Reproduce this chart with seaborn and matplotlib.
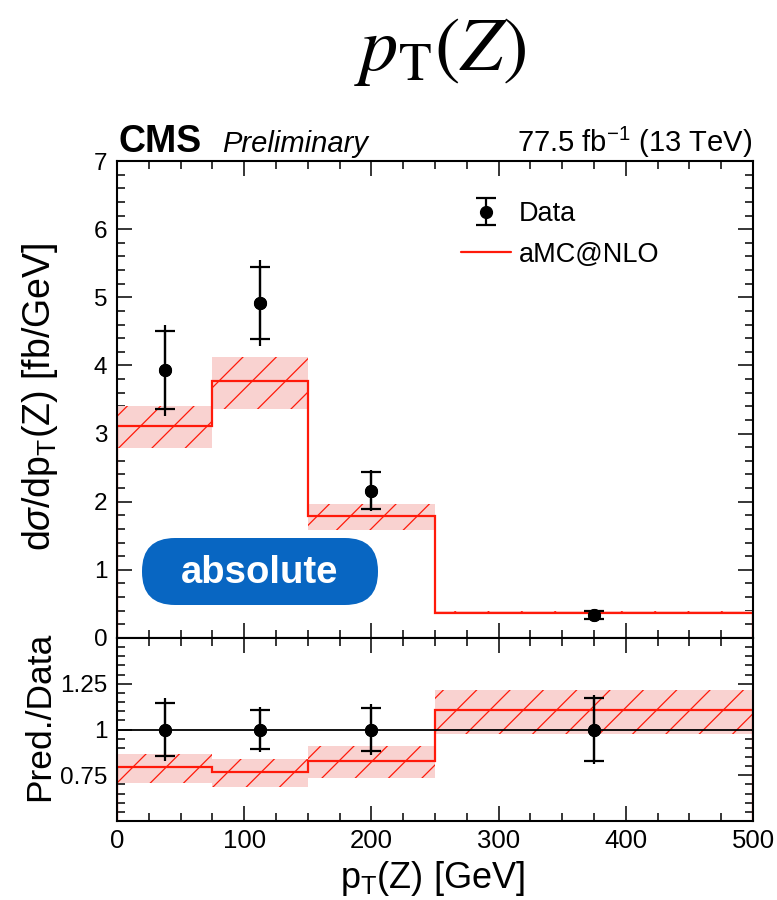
import numpy as np
import pandas as pd
import seaborn as sns
import matplotlib
matplotlib.use("Agg")
import matplotlib.pyplot as plt
from matplotlib.patches import FancyBboxPatch
from matplotlib.transforms import IdentityTransform
from matplotlib.ticker import MultipleLocator, FixedLocator, FixedFormatter
from matplotlib.lines import Line2D

# ---------------- data ----------------
bin_edges = [0, 75, 150, 250, 500]
data_x = [37.5, 112.5, 200, 375]
data_y = [3.93, 4.92, 2.16, 0.34]
data_stat = [0.57, 0.53, 0.27, 0.055]
data_tot = [0.67, 0.63, 0.30, 0.06]
mc_y = [3.11, 3.77, 1.79, 0.37]
mc_lo = [2.79, 3.36, 1.59, 0.35]
mc_hi = [3.40, 4.12, 1.97, 0.39]
ratio_data = [1.0, 1.0, 1.0, 1.0]
ratio_stat = [0.146, 0.108, 0.118, 0.17]
ratio_tot = [0.17, 0.125, 0.14, 0.19]
ratio_mc = [0.797, 0.766, 0.83, 1.109]
ratio_lo = [0.71, 0.685, 0.733, 0.978]
ratio_hi = [0.868, 0.838, 0.91, 1.218]
main_yticks = [0, 1, 2, 3, 4, 5, 6, 7]
ratio_yticks = [0.5, 0.75, 1.0, 1.25, 1.5]
ratio_yticklabels = ["", "0.75", "1", "1.25", ""]
xticks = [0, 100, 200, 300, 400, 500]

sns.set_theme(style="ticks")
plt.rcParams["font.family"] = ["Liberation Sans", "DejaVu Sans"]
plt.rcParams["mathtext.fontset"] = "custom"
plt.rcParams["mathtext.rm"] = "Liberation Sans"
plt.rcParams["mathtext.it"] = "Liberation Sans:italic"
plt.rcParams["mathtext.bf"] = "Liberation Sans:bold"
plt.rcParams["hatch.linewidth"] = 0.9
for k in ["text.color", "axes.labelcolor", "xtick.color", "ytick.color",
          "axes.edgecolor", "xtick.labelcolor", "ytick.labelcolor"]:
    plt.rcParams[k] = "black"

W, H = 777, 900
fig = plt.figure(figsize=(W / 100, H / 100), dpi=100)

L, R = 117, 753
top_main, split, bot_ratio = 161, 638, 821
ax = fig.add_axes([L / W, 1 - split / H, (R - L) / W, (split - top_main) / H])
axr = fig.add_axes([L / W, 1 - bot_ratio / H, (R - L) / W, (bot_ratio - split) / H], sharex=ax)

red = "#ff1a0a"
pink = "#f9d2d0"

df = pd.DataFrame({"x": data_x, "y": data_y, "r": ratio_data})

# ---------- main panel ----------
ax.stairs(mc_hi, bin_edges, baseline=mc_lo, fill=True, facecolor=pink,
          edgecolor=red, linewidth=0, hatch="/", zorder=1)
ax.stairs(mc_y, bin_edges, color=red, linewidth=1.6, zorder=2)
ax.errorbar(data_x, data_y, yerr=data_tot, fmt="none", ecolor="black",
            elinewidth=1.6, capsize=0, zorder=3)
eb = ax.errorbar(data_x, data_y, yerr=data_stat, fmt="o", color="black",
                 markersize=8.5, elinewidth=1.6, capsize=7, capthick=1.6, zorder=4)
sns.scatterplot(data=df, x="x", y="y", ax=ax, color="black", s=75,
                edgecolor="black", zorder=5, legend=False)

ax.set_xlim(0, 500)
ax.set_ylim(0, 7)
ax.set_xlabel("")
ax.set_ylabel("")
ax.yaxis.set_major_locator(FixedLocator(main_yticks))
ax.yaxis.set_minor_locator(MultipleLocator(0.2))
ax.xaxis.set_major_locator(FixedLocator(xticks))
ax.xaxis.set_minor_locator(MultipleLocator(25))
ax.tick_params(labelbottom=False)

mc_handle = Line2D([], [], color=red, linewidth=1.6)
leg = ax.legend([eb, mc_handle], ["Data", "aMC@NLO"], loc="upper left",
                bbox_to_anchor=((461 - L) / (R - L), (split - 201) / (split - top_main)),
                frameon=False, fontsize=19.5, handlelength=1.85, handletextpad=0.3,
                labelspacing=0.55, borderaxespad=0, borderpad=0)

# ---------- ratio panel ----------
axr.stairs(ratio_hi, bin_edges, baseline=ratio_lo, fill=True, facecolor=pink,
           edgecolor=red, linewidth=0, hatch="/", zorder=1)
axr.stairs(ratio_mc, bin_edges, color=red, linewidth=1.6, zorder=2)
axr.axhline(1.0, color="black", linewidth=1.3, zorder=2.5)
axr.errorbar(data_x, ratio_data, yerr=ratio_tot, fmt="none", ecolor="black",
             elinewidth=1.6, capsize=0, zorder=3)
axr.errorbar(data_x, ratio_data, yerr=ratio_stat, fmt="o", color="black",
             markersize=8.5, elinewidth=1.6, capsize=7, capthick=1.6, zorder=4)
sns.scatterplot(data=df, x="x", y="r", ax=axr, color="black", s=75,
                edgecolor="black", zorder=5, legend=False)
axr.set_ylim(0.5, 1.5)
axr.set_xlim(0, 500)
axr.set_xlabel("")
axr.set_ylabel("")
axr.yaxis.set_major_locator(FixedLocator(ratio_yticks))
axr.yaxis.set_major_formatter(FixedFormatter(ratio_yticklabels))
axr.yaxis.set_minor_locator(MultipleLocator(0.05))
axr.xaxis.set_major_locator(FixedLocator(xticks))
axr.xaxis.set_minor_locator(MultipleLocator(25))

for a in (ax, axr):
    for s in a.spines.values():
        s.set_linewidth(1.5)
        s.set_color("black")
    a.tick_params(which="both", direction="in", top=True, right=True,
                  width=1.1, colors="black")
    a.tick_params(which="major", length=10.5, pad=7)
    a.tick_params(which="minor", length=5.5)
    a.tick_params(axis="y", labelsize=17.5)
    a.tick_params(axis="x", labelsize=18.5, pad=6)
    a.set_facecolor("white")

# ---------- text ----------
fig.text(440 / W, 1 - 52 / H, r"$p_{\mathrm{T}}(Z)$", fontsize=55,
         ha="center", va="center", math_fontfamily="stix")
fig.text(118 / W, 1 - 152 / H, "CMS", fontsize=27, fontweight="bold",
         ha="left", va="baseline")
fig.text(222 / W, 1 - 152 / H, "Preliminary", fontsize=21, style="italic",
         ha="left", va="baseline")
fig.text(752 / W, 1 - 152 / H, r"77.5 fb$^{-1}$ (13 TeV)", fontsize=21,
         ha="right", va="baseline")
fig.text(40 / W, 1 - 397 / H, r"d$\sigma$/dp$_{\mathrm{T}}$(Z) [fb/GeV]",
         fontsize=27, rotation=90, ha="center", va="center")
fig.text(40 / W, 1 - 716 / H, "Pred./Data", fontsize=25.5, rotation=90,
         ha="center", va="center")
fig.text(432 / W, 1 - 878 / H, r"p$_{\mathrm{T}}$(Z) [GeV]", fontsize=26,
         ha="center", va="center")

# badge
badge = FancyBboxPatch((142, H - 605), 236, 67,
                       boxstyle="round,pad=0,rounding_size=33",
                       transform=IdentityTransform(), facecolor="#0866c2",
                       edgecolor="none", zorder=10)
fig.patches.append(badge)
fig.text(260 / W, 1 - 573 / H, "absolute", fontsize=27.5, fontweight="bold",
         color="white", ha="center", va="center", zorder=11)

fig.savefig("out.png", dpi=100, facecolor="white")
